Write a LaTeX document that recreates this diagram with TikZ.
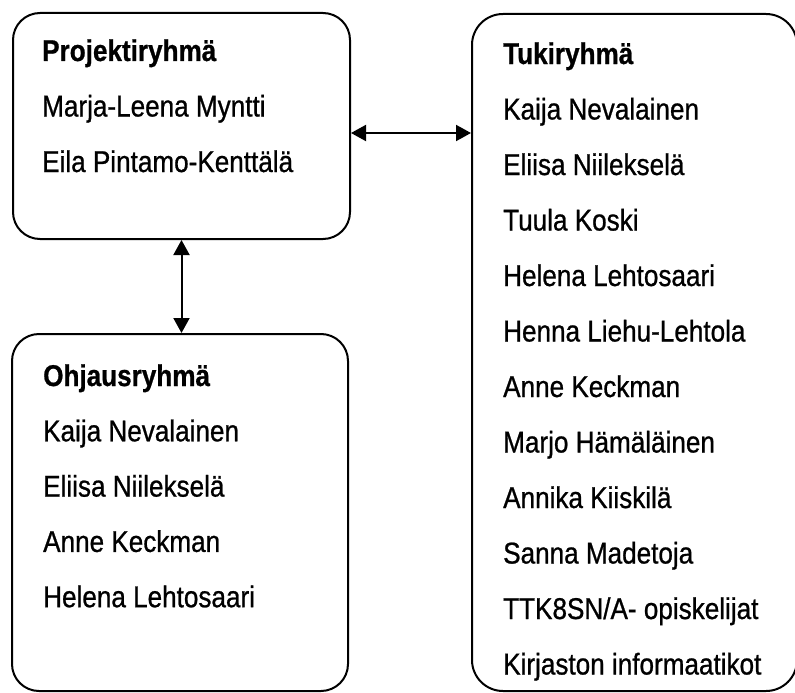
\documentclass[tikz,border=0pt]{standalone}
\usepackage{fontspec}
\setmainfont{Liberation Sans}[FakeStretch=0.87,FakeBold=0.8,BoldFeatures={FakeBold=0.8}]
\usepackage{tikz}
\usetikzlibrary{arrows.meta,positioning}

\begin{document}
\begin{tikzpicture}[x=1pt,y=-1pt,
  groupbox/.style={draw,line width=2pt,rounded corners=27pt,inner sep=0pt},
  member/.style={anchor=base west,inner sep=0pt,font=\fontsize{30}{30}\selectfont},
  head/.style={member,font=\fontsize{30}{30}\selectfont\bfseries},
  link/.style={line width=2pt,{Triangle[length=15pt,width=16pt]}-{Triangle[length=15pt,width=16pt]}}]
  \useasboundingbox (0,0) rectangle (795,693);

  % boxes
  \node[groupbox,minimum width=337pt,minimum height=226pt] (proj) at (181.5,126) {};
  \node[groupbox,minimum width=336pt,minimum height=357pt] (ohj) at (180,512.5) {};
  \node[groupbox,rounded corners=31pt,minimum width=325pt,minimum height=677pt] (tuki) at (634.5,352.5) {};

  % projektiryhmä
  \node[head] (projhead) at (42,61) {Projektiryhmä};
  \foreach \name [count=\i] in {Marja-Leena Myntti,Eila Pintamo-Kenttälä}
    \node[member] (proj\i) at (42,{61+55.5*\i}) {\name};

  % ohjausryhmä
  \node[head] (ohjhead) at (43,386) {Ohjausryhmä};
  \foreach \name [count=\i] in {Kaija Nevalainen,Eliisa Niileksel\"a,Anne Keckman,Helena Lehtosaari}
    \node[member] (ohj\i) at (43,{386+55.3*\i}) {\name};

  % tukiryhmä
  \node[head] (tukihead) at (503,64) {Tukiryhmä};
  \foreach \name [count=\i] in {Kaija Nevalainen,Eliisa Niileksel\"a,Tuula Koski,Helena Lehtosaari,
      Henna Liehu-Lehtola,Anne Keckman,Marjo H\"am\"al\"ainen,Annika Kiiskil\"a,Sanna Madetoja,
      TTK8SN/A- opiskelijat,Kirjaston informaatikot}
    \node[member] (tuki\i) at (503,{64+55.5*\i}) {\name};

  % links
  \draw[link] ([yshift=-7pt]proj.east) -- ([yshift=-7pt]proj.east -| tuki.west);
  \draw[link] (proj.south) -- (proj.south |- ohj.north);
\end{tikzpicture}
\end{document}
